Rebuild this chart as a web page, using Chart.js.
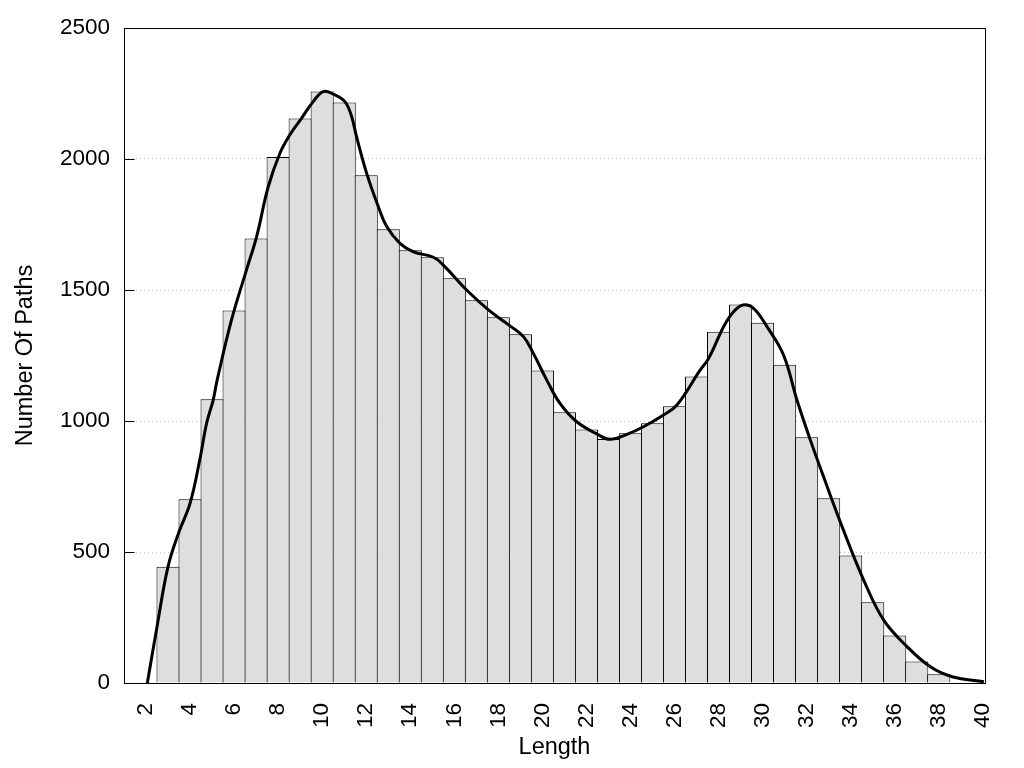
<!DOCTYPE html>
<html>
<head>
<meta charset="utf-8">
<script src="https://cdn.jsdelivr.net/npm/chart.js@4.4.1/dist/chart.umd.min.js"></script>
<style>
  html, body { margin: 0; padding: 0; background: #fff; }
</style>
</head>
<body>
<canvas id="c" width="1024" height="768"></canvas>
<script>
// histogram bins (centre of each bar) and counts
const lengths = [3,4,5,6,7,8,9,10,11,12,13,14,15,16,17,18,19,20,21,22,23,24,25,26,27,28,29,30,31,32,33,34,35,36,37,38];
const pathCounts = [444,701,1083,1422,1697,2008,2155,2258,2216,1938,1732,1652,1625,1545,1461,1396,1331,1193,1033,968,931,953,991,1056,1170,1341,1445,1375,1215,938,705,487,308,181,82,33];

// density curve
const curveX = [2.06,2.5,3.0,3.5,4.0,4.44,4.75,5.05,5.23,5.88,6.56,7.02,7.55,8.08,8.53,9.06,9.59,10.05,10.5,11.03,11.34,11.56,12.02,12.55,12.93,13.53,14.14,15.05,15.5,16.56,17.55,18.53,19.14,19.59,20.2,20.8,21.56,22.55,23.08,23.84,24.59,25.5,26.11,27.17,27.55,28.23,28.68,29.11,29.59,30.2,30.95,31.56,32.17,32.77,33.61,34.59,35.5,36.56,37.62,38.61,40.05];
const curveY = [0,215,444,577,686,851,991,1080,1156,1385,1576,1703,1894,2022,2092,2155,2219,2257,2248,2219,2161,2085,1945,1818,1742,1678,1646,1625,1595,1500,1424,1363,1322,1258,1156,1067,997,947,930,949,978,1023,1061,1195,1239,1360,1417,1443,1430,1360,1252,1080,927,787,597,393,240,139,62,24,5];

const xTicks = [2,4,6,8,10,12,14,16,18,20,22,24,26,28,30,32,34,36,38,40];
const yTicks = [0,500,1000,1500,2000,2500];

const FONT = '"Liberation Sans", Arial, sans-serif';

// box around the plot and short inward ticks on the y axis
const frame = {
  id: 'frame',
  afterDraw(chart) {
    const { ctx, chartArea: a, scales } = chart;
    ctx.save();
    ctx.strokeStyle = '#000';
    ctx.lineWidth = 1;
    const l = Math.round(a.left) + 0.5, t = Math.round(a.top) + 0.5;
    ctx.strokeRect(l, t, Math.round(a.right) - Math.round(a.left), Math.round(a.bottom) - Math.round(a.top));
    yTicks.forEach(v => {
      const y = Math.round(scales.y.getPixelForValue(v)) + 0.5;
      ctx.beginPath();
      ctx.moveTo(l, y);
      ctx.lineTo(l + 10, y);
      ctx.stroke();
    });
    ctx.restore();
  }
};

new Chart(document.getElementById('c'), {
  data: {
    datasets: [
      {
        type: 'line',
        data: curveX.map((x, i) => ({ x, y: curveY[i] })),
        borderColor: '#000',
        borderWidth: 3,
        pointRadius: 0,
        tension: 0.4,
        fill: false,
        order: 0
      },
      {
        type: 'bar',
        data: lengths.map((x, i) => ({ x, y: pathCounts[i] })),
        backgroundColor: '#dedede',
        borderColor: '#000',
        borderWidth: 1,
        barPercentage: 1.05,
        categoryPercentage: 1,
        order: 1
      }
    ]
  },
  options: {
    responsive: false,
    animation: false,
    layout: { padding: { top: 28, right: 39, left: 0, bottom: 0 } },
    plugins: { legend: { display: false }, tooltip: { enabled: false } },
    scales: {
      x: {
        type: 'linear',
        min: 1,
        max: 40.1,
        offset: false,
        grid: { display: false },
        border: { display: false },
        afterBuildTicks: s => { s.ticks = xTicks.map(v => ({ value: v })); },
        afterFit: s => { s.height = 85; },
        ticks: {
          autoSkip: false,
          minRotation: 90,
          maxRotation: 90,
          padding: 12,
          color: '#000',
          font: { family: FONT, size: 22.5 },
          callback: v => String(v)
        },
        title: {
          display: true,
          text: 'Length',
          color: '#000',
          font: { family: FONT, size: 23.5 },
          padding: { top: 0, bottom: 6 }
        }
      },
      y: {
        min: 0,
        max: 2500,
        afterBuildTicks: s => { s.ticks = yTicks.map(v => ({ value: v })); },
        afterFit: s => { s.width = 124; },
        grid: {
          drawTicks: false,
          color: c => (c.tick && (c.tick.value === 0 || c.tick.value === 2500)) ? 'rgba(0,0,0,0)' : '#c4c4c4'
        },
        border: { display: false, dash: [1, 3] },
        ticks: {
          padding: 14,
          color: '#000',
          font: { family: FONT, size: 22.5 },
          callback: v => String(v)
        },
        title: {
          display: true,
          text: 'Number Of Paths',
          color: '#000',
          font: { family: FONT, size: 23.5 },
          padding: { top: 11, bottom: 0 }
        }
      }
    }
  },
  plugins: [frame]
});
</script>
</body>
</html>
